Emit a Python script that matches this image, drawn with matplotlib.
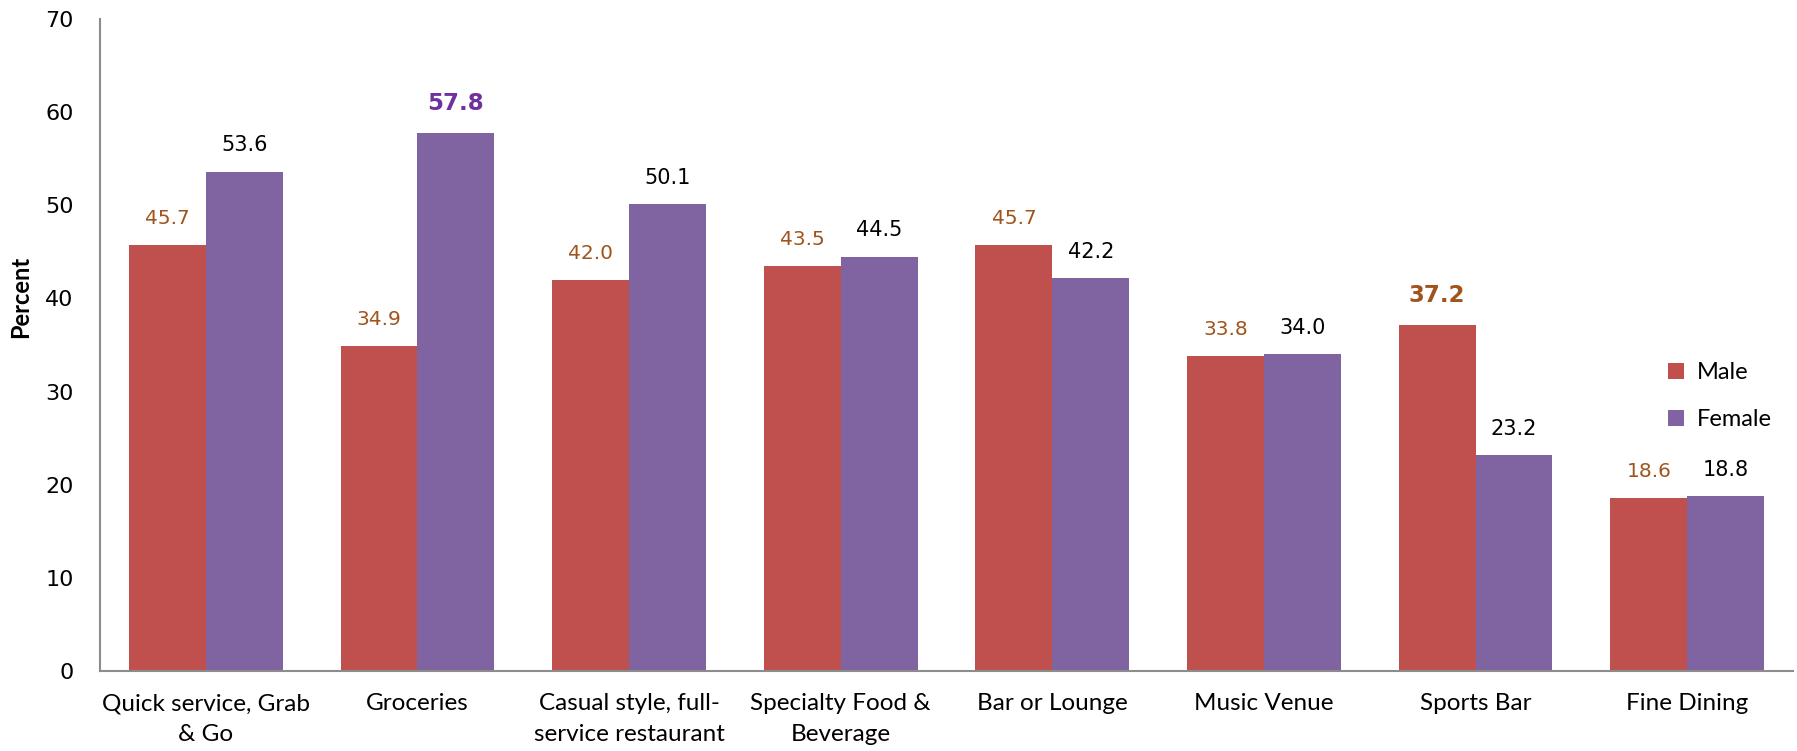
import matplotlib
matplotlib.use("Agg")
import matplotlib.pyplot as plt
import numpy as np

categories = ["Quick service, Grab\n& Go", "Groceries", "Casual style, full-\nservice restaurant",
              "Specialty Food &\nBeverage", "Bar or Lounge", "Music Venue", "Sports Bar", "Fine Dining"]
male = [45.7, 34.9, 42.0, 43.5, 45.7, 33.8, 37.2, 18.6]
female = [53.6, 57.8, 50.1, 44.5, 42.2, 34.0, 23.2, 18.8]
y_ticks = [0, 10, 20, 30, 40, 50, 60, 70]

MALE_C = "#C0504D"
FEMALE_C = "#8064A2"
MALE_TXT = "#A0541C"
label_font = "DejaVu Sans"
cat_font = "Lato"

fig = plt.figure(figsize=(17.97, 7.51), dpi=100)
ax = fig.add_axes([100 / 1797, 80 / 751, (1793 - 100) / 1797, (671 - 19) / 751])

x = np.arange(len(categories))
w = 0.363
ax.bar(x - w / 2, male, w, color=MALE_C, label="Male")
ax.bar(x + w / 2, female, w, color=FEMALE_C, label="Female")

ax.set_xlim(-0.5, len(categories) - 0.5)
ax.set_ylim(0, 70)
ax.set_yticks(y_ticks)
ax.set_yticklabels([str(t) for t in y_ticks], fontfamily=label_font, fontsize=16)
ax.set_xticks(x)
ax.set_xticklabels(categories, fontfamily=cat_font, fontsize=17.5, linespacing=1.6)
ax.tick_params(axis="both", length=0)
ax.tick_params(axis="x", pad=16)
ax.tick_params(axis="y", pad=19)
for s in ("top", "right"):
    ax.spines[s].set_visible(False)
for s in ("left", "bottom"):
    ax.spines[s].set_color("#8C8C8C")
    ax.spines[s].set_linewidth(1.5)

ax.set_ylabel("Percent", fontfamily=cat_font, fontsize=17, fontweight="bold", va="center")
ax.yaxis.set_label_coords(-0.047, 0.574)

for i, (m, f) in enumerate(zip(male, female)):
    big_m = m == 37.2
    ax.annotate(f"{m:.1f}", (x[i] - w / 2, m), xytext=(0, 21 if big_m else 19),
                textcoords="offset points", ha="center", va="center",
                fontfamily=label_font, color=MALE_TXT,
                fontsize=16.5 if big_m else 14.5, fontweight="bold" if big_m else "normal")
    big_f = f == 57.8
    ax.annotate(f"{f:.1f}", (x[i] + w / 2, f), xytext=(0, 21 if big_f else 19),
                textcoords="offset points", ha="center", va="center",
                fontfamily=label_font, color="#7030A0" if big_f else "black",
                fontsize=16.5 if big_f else 15, fontweight="bold" if big_f else "normal")

leg = ax.legend(loc="center left", frameon=False,
                prop={"family": cat_font, "size": 17}, handlelength=0.68, handleheight=0.68,
                labelspacing=1.1, handletextpad=0.55)
leg.set_bbox_to_anchor((1647 / 1797, 1 - 396 / 751), transform=fig.transFigure)

fig.savefig("out.png", dpi=100)
